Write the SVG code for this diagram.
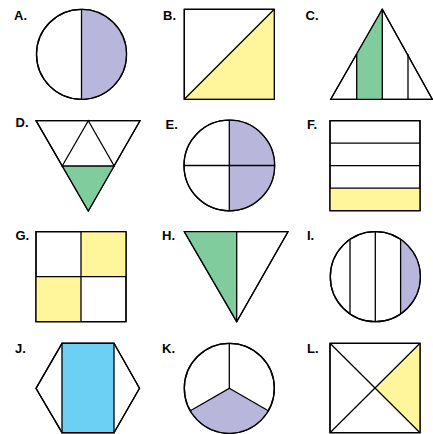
<svg xmlns="http://www.w3.org/2000/svg" width="433" height="434" viewBox="0 0 433 434">
<style>
.lbl{font-family:"Liberation Sans",Arial,sans-serif;font-weight:bold;font-size:13px;fill:#000}
.o{fill:#fff;stroke:#000;stroke-width:1.3;stroke-linejoin:round}
.l{fill:none;stroke:#000;stroke-width:1.3}
.pu{fill:#b9b6dc}
.ye{fill:#fff59a}
.gr{fill:#80cc9c}
.bl{fill:#6cd0f5}
</style>
<rect width="433" height="434" fill="#fff"/>
<g id="A">
<circle class="o" cx="81.5" cy="54.3" r="45"/>
<path class="pu" d="M81.5 9.3 A45 45 0 0 1 81.5 99.3 Z"/>
<circle class="l" cx="81.5" cy="54.3" r="45"/>
<line class="l" x1="81.5" y1="9.3" x2="81.5" y2="99.3"/>
<text class="lbl" x="14" y="19.5">A.</text>
</g>
<g id="B">
<rect class="o" x="184.3" y="9.3" width="90" height="90"/>
<polygon class="ye" points="184.3,99.3 274.3,9.3 274.3,99.3"/>
<rect class="l" x="184.3" y="9.3" width="90" height="90"/>
<line class="l" x1="184.3" y1="99.3" x2="274.3" y2="9.3"/>
<text class="lbl" x="163" y="19.5">B.</text>
</g>
<g id="C">
<polygon class="o" points="330.7,99.3 382.3,9.3 432.3,99.3"/>
<polygon class="gr" points="356.7,99.3 356.7,54 382.3,9.3 382.3,99.3"/>
<polygon class="l" points="330.7,99.3 382.3,9.3 432.3,99.3"/>
<line class="l" x1="356.7" y1="54" x2="356.7" y2="99.3"/>
<line class="l" x1="382.3" y1="9.3" x2="382.3" y2="99.3"/>
<line class="l" x1="408" y1="54" x2="408" y2="99.3"/>
<text class="lbl" x="305.5" y="19.5">C.</text>
</g>
<g id="D">
<polygon class="o" points="36,120.7 140,120.7 88.3,211"/>
<polygon class="gr" points="62.2,166 114.2,166 88.3,211"/>
<polygon class="l" points="36,120.7 140,120.7 88.3,211"/>
<polygon class="l" points="88.3,120.7 62.2,166 114.2,166"/>
<text class="lbl" x="15.5" y="126.5">D.</text>
</g>
<g id="E">
<circle class="o" cx="229.3" cy="165.5" r="45.3"/>
<path class="pu" d="M229.3 120.2 A45.3 45.3 0 0 1 229.3 210.8 Z"/>
<circle class="l" cx="229.3" cy="165.5" r="45.3"/>
<line class="l" x1="229.3" y1="120.2" x2="229.3" y2="210.8"/>
<line class="l" x1="184" y1="165.5" x2="274.6" y2="165.5"/>
<text class="lbl" x="165.5" y="129">E.</text>
</g>
<g id="F">
<rect class="o" x="330" y="120.7" width="90" height="90"/>
<rect class="ye" x="330" y="188.2" width="90" height="22.5"/>
<rect class="l" x="330" y="120.7" width="90" height="90"/>
<line class="l" x1="330" y1="143.2" x2="420" y2="143.2"/>
<line class="l" x1="330" y1="165.7" x2="420" y2="165.7"/>
<line class="l" x1="330" y1="188.2" x2="420" y2="188.2"/>
<text class="lbl" x="307" y="128.5">F.</text>
</g>
<g id="G">
<rect class="o" x="36" y="231.7" width="90" height="90"/>
<rect class="ye" x="81" y="231.7" width="45" height="45"/>
<rect class="ye" x="36" y="276.7" width="45" height="45"/>
<rect class="l" x="36" y="231.7" width="90" height="90"/>
<line class="l" x1="81" y1="231.7" x2="81" y2="321.7"/>
<line class="l" x1="36" y1="276.7" x2="126" y2="276.7"/>
<text class="lbl" x="15.5" y="239.5">G.</text>
</g>
<g id="H">
<polygon class="o" points="184.3,231.7 288,231.7 236.7,321.7"/>
<polygon class="gr" points="184.3,231.7 236.7,231.7 236.7,321.7"/>
<polygon class="l" points="184.3,231.7 288,231.7 236.7,321.7"/>
<line class="l" x1="236.7" y1="231.7" x2="236.7" y2="321.7"/>
<text class="lbl" x="162" y="239.5">H.</text>
</g>
<g id="I">
<circle class="o" cx="375.3" cy="276.7" r="45"/>
<path class="pu" d="M400.6 239.5 A45 45 0 0 1 400.6 313.9 Z"/>
<circle class="l" cx="375.3" cy="276.7" r="45"/>
<line class="l" x1="350" y1="239.5" x2="350" y2="313.9"/>
<line class="l" x1="375.3" y1="231.7" x2="375.3" y2="321.7"/>
<line class="l" x1="400.6" y1="239.5" x2="400.6" y2="313.9"/>
<text class="lbl" x="307" y="239.5">I.</text>
</g>
<g id="J">
<polygon class="o" points="36,388.3 62,343.3 114,343.3 139.5,388.3 114,432.7 62,432.7"/>
<rect class="bl" x="62" y="343.3" width="52" height="89.4"/>
<polygon class="l" points="36,388.3 62,343.3 114,343.3 139.5,388.3 114,432.7 62,432.7"/>
<rect class="l" x="62" y="343.3" width="52" height="89.4"/>
<text class="lbl" x="15" y="352.5">J.</text>
</g>
<g id="K">
<circle class="o" cx="229.3" cy="388.3" r="45"/>
<path class="pu" d="M229.3 388.3 L190.3 410.8 A45 45 0 0 0 268.3 410.8 Z"/>
<circle class="l" cx="229.3" cy="388.3" r="45"/>
<polyline class="l" points="229.3,343.3 229.3,388.3 190.3,410.8"/>
<line class="l" x1="229.3" y1="388.3" x2="268.3" y2="410.8"/>
<text class="lbl" x="162" y="352.5">K.</text>
</g>
<g id="L">
<rect class="o" x="330" y="343.3" width="90" height="89.4"/>
<polygon class="ye" points="420,343.3 420,432.7 375,388"/>
<rect class="l" x="330" y="343.3" width="90" height="89.4"/>
<line class="l" x1="330" y1="343.3" x2="420" y2="432.7"/>
<line class="l" x1="330" y1="432.7" x2="420" y2="343.3"/>
<text class="lbl" x="307" y="352.5">L.</text>
</g>
<g id="connectors"></g>
</svg>
